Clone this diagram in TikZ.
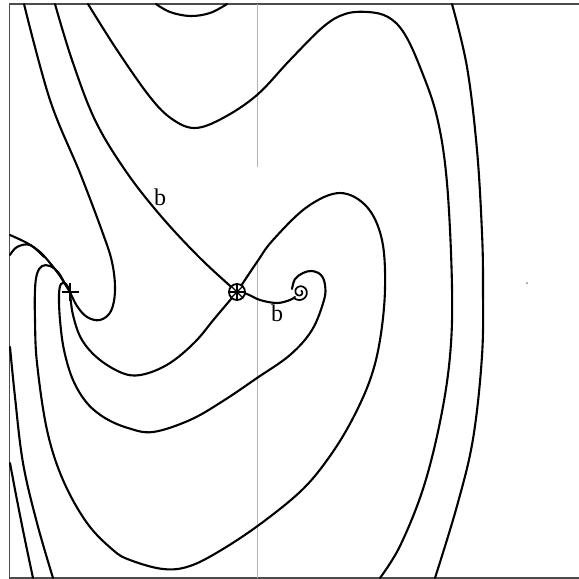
\documentclass[tikz,border=0pt]{standalone}
\usepackage{fontspec}
\usepackage{tikz}
\usetikzlibrary{calc}
\newfontfamily\lblfont{Liberation Serif}

\begin{document}
\begin{tikzpicture}[x=1pt,y=-1pt,
  traj/.style={line width=2.1pt,line join=round,line cap=round},
  framel/.style={line width=1.2pt,gray!60!black},
  axisl/.style={line width=0.5pt,gray!60},
  lbl/.style={font=\lblfont\fontsize{24}{24}\selectfont,inner sep=0pt},
  saddlemark/.style={circle,draw,fill=white,line width=1.8pt,minimum size=16pt,inner sep=0pt}]
  \useasboundingbox (0,0) rectangle (579,579);
  % frame and axis
  \draw[framel] (579,4) -- (9.5,4) -- (9.5,578) -- (579,578);
  \draw[axisl] (257,4) -- (257,167);
  \draw[axisl] (257,262) -- (257,578);
  % singular points
  \coordinate (focus) at (70,292);
  \coordinate (source) at (300,292);
  % trajectories from the top
  \draw[traj] plot[smooth,tension=0.6] coordinates {(24,4) (50,100) (80,173) (102,231) (112,262) (115,290) (111,311) (100,320) (87,317) (77,306) (focus)};
  \draw[traj] plot[smooth,tension=0.6] coordinates {(55,4) (72,60) (95,120) (125,170) (160,215) (200,258) (237,292)};
  \draw[traj] plot[smooth,tension=0.6] coordinates {(88,4) (117,50) (150,97) (172,119) (195,128) (223,118) (257,95) (290,60) (323,27) (345,14) (368,12) (388,17) (404,33) (420,67) (437,117) (447,183) (452,287) (450,356) (440,422) (423,489) (400,546) (380,578)};
  \draw[traj] plot[smooth,tension=0.6] coordinates {(452,4) (467,67) (477,150) (482,233) (483,287) (482,356) (473,439) (457,506) (435,578)};
  \draw[traj] plot[smooth,tension=0.6] coordinates {(156,4) (170,12) (190,16) (210,13) (227,4)};
  % branches of the saddle
  \draw[traj] plot[smooth,tension=0.6] coordinates {(237,292) (257,262) (273,240) (307,207) (340,193) (367,207) (382,240) (385,289) (380,340) (370,380) (352,420) (330,456) (303,489) (263,522) (223,549) (190,566) (163,569) (130,560) (113,550) (87,523) (63,480) (47,430) (37,363) (35,320) (35,290) (37,274) (42,266) (50,266) (58,272) (64,282) (focus)};
  \draw[traj] plot[smooth,tension=0.6] coordinates {(237,292) (215,318) (195,342) (170,363) (145,374) (125,374) (100,360) (82,340) (73,315) (focus)};
  \draw[traj] plot[smooth,tension=0.6] coordinates {(295,297) (290,300) (277,303) (260,300) (247,294) (237,292)};
  % around the source
  \draw[traj] plot[smooth,tension=0.6] coordinates {(292,289) (295,279) (303,273) (312,271) (321,275) (325,285) (324,300) (312,330) (290,355) (257,378) (223,401) (190,420) (153,432) (128,428) (105,418) (87,403) (73,380) (64,350) (60,320) (59,295) (61,284) (66,284) (focus)};
  \draw[line width=1.7pt] plot[domain=-60:495,samples=80,smooth,variable=\t] ({300+(1.5+7*(\t+60)/555)*cos(\t)},{292+(1.5+7*(\t+60)/555)*sin(\t)});
  % left side
  \draw[traj] plot[smooth,tension=0.6] coordinates {(10,235) (27,243) (40,252) (50,263) (60,276) (focus)};
  \draw[traj] plot[smooth,tension=0.6] coordinates {(10,255) (17,247) (30,245) (44,257)};
  \draw[traj] plot[smooth,tension=0.6] coordinates {(10,347) (15,397) (23,463) (37,523) (53,578)};
  \draw[traj] plot[smooth,tension=0.6] coordinates {(10,463) (17,500) (25,540) (33,578)};
  % markers
  \draw[line width=1.8pt] (focus) +(-8,0) -- +(9,0) (focus) +(0,-9) -- +(0,9);
  \node[saddlemark] (saddle) at (237,292) {};
  \foreach \a/\b in {0/180,45/225,90/270,135/315}
    \draw[line width=1.2pt] (saddle.\a) -- (saddle.\b);
  \fill[gray] (527,283) circle (1pt);
  % labels
  \node[lbl] (bup) at (160,197) {b};
  \node[lbl] (bdown) at (277,313) {b};
\end{tikzpicture}
\end{document}
